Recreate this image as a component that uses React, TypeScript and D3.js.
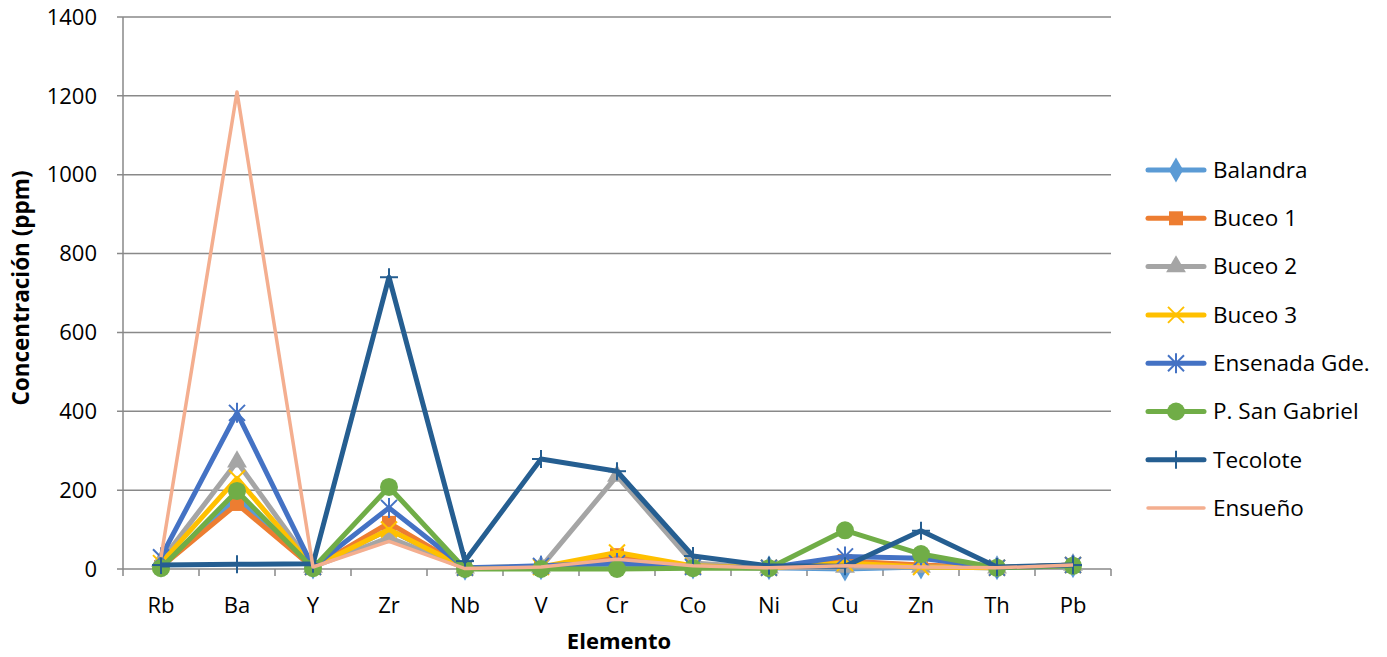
import React from "react";
import * as d3 from "d3";

const categories = ["Rb", "Ba", "Y", "Zr", "Nb", "V", "Cr", "Co", "Ni", "Cu", "Zn", "Th", "Pb"];
const yTicks = [0, 200, 400, 600, 800, 1000, 1200, 1400];

const balandra = [10, 180, 5, 100, 2, 3, 10, 5, 3, 0, 5, 3, 8];
const buceo1 = [5, 165, 3, 117, 3, 3, 35, 5, 3, 20, 10, 3, 10];
const buceo2 = [20, 272, 5, 80, 3, 5, 236, 15, 3, 5, 5, 3, 10];
const buceo3 = [15, 230, 5, 100, 3, 5, 42, 8, 3, 15, 5, 3, 10];
const ensenada = [30, 396, 5, 155, 3, 8, 15, 5, 3, 32, 27, 3, 10];
const sanGabriel = [2, 198, 2, 208, 0, 0, 0, 2, 2, 98, 38, 3, 8];
const tecolote = [10, 12, 13, 740, 20, 279, 248, 33, 8, 7, 97, 5, 10];
const ensueno = [30, 1210, 5, 70, 1, 5, 25, 8, 3, 8, 5, 3, 10];

const seriesNames = ["Balandra", "Buceo 1", "Buceo 2", "Buceo 3", "Ensenada Gde.", "P. San Gabriel", "Tecolote", "Ensueño"];
const seriesValues = [balandra, buceo1, buceo2, buceo3, ensenada, sanGabriel, tecolote, ensueno];
const seriesColors = ["#5B9BD5", "#ED7D31", "#A5A5A5", "#FFC000", "#4472C4", "#70AD47", "#255E91", "#F4AE8F"];
const seriesMarkers = ["diamond", "square", "triangle", "x", "star", "circle", "plus", "none"];

const FONT = "'Open Sans', 'Liberation Sans', sans-serif";

function Marker({ type, x, y, color }: { type: string; x: number; y: number; color: string }) {
  if (type === "none") return null;
  if (type === "circle") return <circle cx={x} cy={y} r={9} fill={color} />;
  if (type === "square") return <rect x={x - 7} y={y - 7} width={14} height={14} fill={color} />;
  if (type === "diamond") {
    const p = d3.symbol().type(d3.symbolDiamond).size(180)();
    return <path d={p || ""} transform={`translate(${x},${y})`} fill={color} />;
  }
  if (type === "triangle") {
    const p = d3.symbol().type(d3.symbolTriangle).size(170)();
    return <path d={p || ""} transform={`translate(${x},${y})`} fill={color} />;
  }
  if (type === "x") {
    const s = 8;
    return (
      <g stroke={color} strokeWidth={2}>
        <line x1={x - s} y1={y - s} x2={x + s} y2={y + s} />
        <line x1={x - s} y1={y + s} x2={x + s} y2={y - s} />
      </g>
    );
  }
  if (type === "star") {
    const s = 8;
    return (
      <g stroke={color} strokeWidth={2}>
        <line x1={x - s} y1={y - s} x2={x + s} y2={y + s} />
        <line x1={x - s} y1={y + s} x2={x + s} y2={y - s} />
        <line x1={x} y1={y - s - 2} x2={x} y2={y + s + 2} />
      </g>
    );
  }
  if (type === "plus") {
    const s = 9;
    return (
      <g stroke={color} strokeWidth={2}>
        <line x1={x - s} y1={y} x2={x + s} y2={y} />
        <line x1={x} y1={y - s} x2={x} y2={y + s} />
      </g>
    );
  }
  return null;
}

export default function App() {
  const width = 1387;
  const height = 657;
  const left = 123;
  const right = 1111;
  const top = 17;
  const bottom = 569;

  const x = d3.scaleBand<string>().domain(categories).range([left, right]);
  const y = d3.scaleLinear().domain([0, 1400]).range([bottom, top]);
  const cx = (c: string) => (x(c) as number) + x.bandwidth() / 2;

  const line = d3
    .line<number>()
    .x((_, i) => cx(categories[i]))
    .y((v) => y(v));

  const gridColor = "#898989";
  const legendX = 1148;
  const legendY0 = 170;
  const legendStep = 48.3;

  return (
    <svg width={width} height={height} style={{ position: "absolute", left: 0, top: 0, background: "#fff" }} fontFamily={FONT}>
      <rect x={0} y={0} width={width} height={height} fill="#fff" />
      {yTicks.map((t) => (
        <line key={t} x1={left - 6} x2={right} y1={y(t)} y2={y(t)} stroke={gridColor} strokeWidth={1.5} />
      ))}
      <line x1={left} x2={left} y1={top} y2={bottom} stroke={gridColor} strokeWidth={1.5} />
      {categories.map((c) => (
        <line key={c} x1={x(c) as number} x2={x(c) as number} y1={bottom} y2={bottom + 7} stroke={gridColor} strokeWidth={1.5} />
      ))}
      <line x1={right} x2={right} y1={bottom} y2={bottom + 7} stroke={gridColor} strokeWidth={1.5} />
      {yTicks.map((t) => (
        <text key={t} x={97} y={y(t)} dy="0.35em" textAnchor="end" fontSize={22} fill="#000">
          {t}
        </text>
      ))}
      {categories.map((c) => (
        <text key={c} x={cx(c)} y={605} dy="0.35em" textAnchor="middle" fontSize={22} fill="#000">
          {c}
        </text>
      ))}
      <text x={619} y={641} dy="0.35em" textAnchor="middle" fontSize={22} fontWeight="bold" fill="#000">
        Elemento
      </text>
      <text
        transform={`translate(21,288) rotate(-90)`}
        dy="0.35em"
        textAnchor="middle"
        fontSize={22.5}
        fontWeight="bold"
        fill="#000"
      >
        Concentración (ppm)
      </text>
      {seriesValues.map((vals, si) => (
        <g key={seriesNames[si]}>
          <path
            d={line(vals) || ""}
            fill="none"
            stroke={seriesColors[si]}
            strokeWidth={seriesMarkers[si] === "none" ? 3.5 : 5}
            strokeLinejoin="round"
          />
          {vals.map((v, i) => (
            <Marker key={i} type={seriesMarkers[si]} x={cx(categories[i])} y={y(v)} color={seriesColors[si]} />
          ))}
        </g>
      ))}
      {seriesNames.map((n, si) => {
        const ly = legendY0 + si * legendStep;
        return (
          <g key={n}>
            <line
              x1={legendX}
              x2={legendX + 56}
              y1={ly}
              y2={ly}
              stroke={seriesColors[si]}
              strokeWidth={seriesMarkers[si] === "none" ? 3.5 : 5}
              strokeLinecap="round"
            />
            <Marker type={seriesMarkers[si]} x={legendX + 28} y={ly} color={seriesColors[si]} />
            <text x={legendX + 65} y={ly} dy="0.35em" fontSize={22.5} fill="#000">
              {n}
            </text>
          </g>
        );
      })}
    </svg>
  );
}
